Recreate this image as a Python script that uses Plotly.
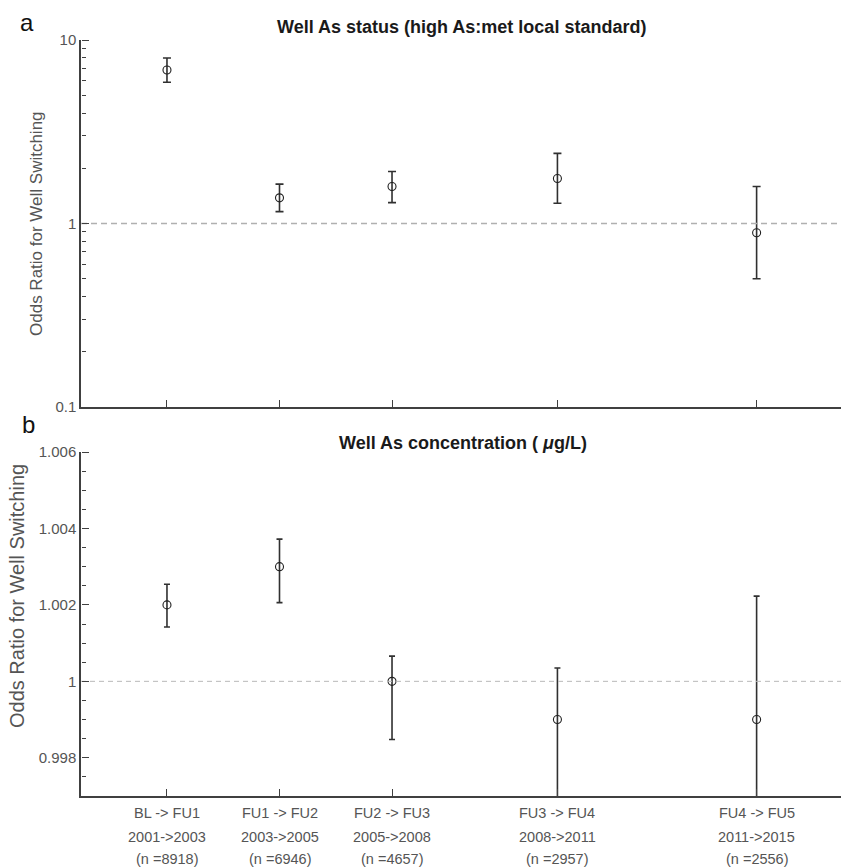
import plotly.graph_objects as go

# ---------------- data ----------------
periods = ["BL -> FU1", "FU1 -> FU2", "FU2 -> FU3", "FU3 -> FU4", "FU4 -> FU5"]
years = ["2001->2003", "2003->2005", "2005->2008", "2008->2011", "2011->2015"]
n_labels = ["(n =8918)", "(n =6946)", "(n =4657)", "(n =2957)", "(n =2556)"]
x_pos = [1, 2, 3, 4.47, 6.24]

# panel a: Well As status (high As : met local standard)
or_status = [6.86, 1.38, 1.59, 1.76, 0.89]
lo_status = [5.88, 1.16, 1.30, 1.29, 0.50]
hi_status = [7.98, 1.64, 1.92, 2.41, 1.59]

# panel b: Well As concentration (ug/L)
or_conc = [1.0020, 1.0030, 1.0000, 0.9990, 0.9990]
lo_conc = [1.00142, 1.00206, 0.99848, 0.99650, 0.99577]
hi_conc = [1.00254, 1.00372, 1.00066, 1.00035, 1.00223]

x_range = [0.236, 6.99]
yb_range = [0.997, 1.006]
yb_ticks = [0.998, 1.0, 1.002, 1.004, 1.006]
yb_ticktext = ["0.998", "1", "1.002", "1.004", "1.006"]
ya_ticks = [0.1, 1, 10]
ya_ticktext = ["0.1", "1", "10"]

# minor tick positions
ya_minor = [round(m * d, 3) for d in (0.1, 1) for m in range(2, 10)]
yb_minor = [round(0.997 + 0.0005 * k, 4) for k in range(0, 19)]
yb_minor = [v for v in yb_minor if all(abs(v - t) > 1e-7 for t in yb_ticks)]

# ---------------- figure ----------------
W, H = 841, 867
ML, MR, MT, MB = 81, 0, 40, 71
PH = H - MT - MB
PW = W - ML - MR

def py(pix):
    return (H - MB - pix) / PH

def px(pix):
    return (pix - ML) / PW

dom_a = [py(407), 1.0]
dom_b = [0.0, py(452)]

ERR_C = "#303030"
MK_C = "#202020"
AX_C = "#404040"
TICK_C = "#555555"
FONT = "Liberation Sans, Arial, sans-serif"

fig = go.Figure()

# OR = 1 reference lines; they sit on the tick-carrying overlay axes
fig.add_trace(go.Scatter(x=x_range, y=[1, 1], mode="lines", xaxis="x", yaxis="y3",
                         line=dict(color="#b0b0b0", width=1.6, dash="6px,4px"),
                         hoverinfo="skip", showlegend=False))
fig.add_trace(go.Scatter(x=x_range, y=[1, 1], mode="lines", xaxis="x", yaxis="y5",
                         line=dict(width=0), opacity=0,
                         hoverinfo="skip", showlegend=False))
fig.add_trace(go.Scatter(x=x_range, y=[1, 1], mode="lines", xaxis="x2", yaxis="y4",
                         line=dict(color="#b8b8b8", width=1, dash="5px,4px"),
                         hoverinfo="skip", showlegend=False))
fig.add_trace(go.Scatter(x=x_range, y=[1, 1], mode="lines", xaxis="x2", yaxis="y6",
                         line=dict(width=0), opacity=0,
                         hoverinfo="skip", showlegend=False))

fig.add_trace(go.Scatter(
    x=x_pos, y=or_status, mode="markers", xaxis="x", yaxis="y",
    marker=dict(symbol="circle-open", size=8, color=MK_C, line=dict(width=1.1, color=MK_C)),
    error_y=dict(type="data", symmetric=False,
                 array=[h - o for h, o in zip(hi_status, or_status)],
                 arrayminus=[o - l for o, l in zip(or_status, lo_status)],
                 color=ERR_C, thickness=1.6, width=4),
    showlegend=False))

fig.add_trace(go.Scatter(
    x=x_pos, y=or_conc, mode="markers", xaxis="x2", yaxis="y2",
    marker=dict(symbol="circle-open", size=8, color=MK_C, line=dict(width=1.1, color=MK_C)),
    error_y=dict(type="data", symmetric=False,
                 array=[h - o for h, o in zip(hi_conc, or_conc)],
                 arrayminus=[o - l for o, l in zip(or_conc, lo_conc)],
                 color=ERR_C, thickness=1.6, width=3),
    showlegend=False))

axis_common = dict(showline=True, linecolor=AX_C, linewidth=1.5, showgrid=False,
                   zeroline=False, mirror=False)
# tick-only overlay axes placed on the left edge, with ticks pointing into the plot
def tick_axis(overlay, dom, vals, length, log=False):
    d = dict(overlaying=overlay, anchor="free", position=0, side="right", domain=dom,
             showline=False, showgrid=False, zeroline=False, showticklabels=False,
             ticks="outside", ticklen=length, tickwidth=1.3, tickcolor=AX_C,
             tickmode="array", tickvals=vals)
    if log:
        d.update(type="log", range=[-1, 1])
    else:
        d.update(range=yb_range)
    return d

fig.update_layout(
    width=W, height=H,
    margin=dict(l=ML, r=MR, t=MT, b=MB),
    paper_bgcolor="white", plot_bgcolor="white",
    font=dict(family=FONT, color=TICK_C, size=14),
    xaxis=dict(domain=[0, 1], anchor="y", range=x_range, tickmode="array", tickvals=x_pos,
               showticklabels=False, ticks="inside", ticklen=7, tickwidth=1.2,
               tickcolor=AX_C, **axis_common),
    yaxis=dict(domain=dom_a, anchor="x", type="log",
               range=[-1, 1], tickmode="array", tickvals=ya_ticks, ticktext=ya_ticktext,
               ticks="", tickfont=dict(size=15, color=TICK_C, family=FONT),
               **axis_common),
    yaxis3=tick_axis("y", dom_a, ya_ticks, 7, log=True),
    yaxis5=tick_axis("y", dom_a, ya_minor, 4, log=True),
    xaxis2=dict(domain=[0, 1], anchor="y2", range=x_range, tickmode="array", tickvals=x_pos,
                showticklabels=False, ticks="inside", ticklen=7, tickwidth=1.2,
                tickcolor=AX_C, **axis_common),
    yaxis2=dict(domain=dom_b, anchor="x2", range=yb_range, tickmode="array",
                tickvals=yb_ticks, ticktext=yb_ticktext, ticks="",
                tickfont=dict(size=15, color=TICK_C, family=FONT),
                **axis_common),
    yaxis4=tick_axis("y2", dom_b, yb_ticks, 7),
    yaxis6=tick_axis("y2", dom_b, yb_minor, 4),
)

ann = []
ann.append(dict(text="a", x=px(27), y=py(22), xref="paper", yref="paper", showarrow=False,
                font=dict(size=24, color="#111111", family=FONT), xanchor="center", yanchor="middle"))
ann.append(dict(text="b", x=px(28), y=py(424), xref="paper", yref="paper", showarrow=False,
                font=dict(size=24, color="#111111", family=FONT), xanchor="center", yanchor="middle"))
ann.append(dict(text="<b>Well As status (high As:met local standard)</b>", x=px(461), y=py(27),
                xref="paper", yref="paper", showarrow=False, xanchor="center", yanchor="middle",
                font=dict(size=18, color="#1a1a1a", family=FONT)))
ann.append(dict(text="<b>Well As concentration ( <i>\u03bc</i>g/L)</b>", x=px(463), y=py(443),
                xref="paper", yref="paper", showarrow=False, xanchor="center", yanchor="middle",
                font=dict(size=18, color="#1a1a1a", family=FONT)))
ann.append(dict(text="Odds Ratio for Well Switching", x=px(36), y=py(224), xref="paper", yref="paper",
                showarrow=False, textangle=-90, xanchor="center", yanchor="middle",
                font=dict(size=17, color=TICK_C, family=FONT)))
ann.append(dict(text="Odds Ratio for Well Switching", x=px(17), y=py(596), xref="paper", yref="paper",
                showarrow=False, textangle=-90, xanchor="center", yanchor="middle",
                font=dict(size=20, color=TICK_C, family=FONT)))
for xv, a, b, c in zip(x_pos, periods, years, n_labels):
    for txt, shift in ((a, -17), (b, -41), (c, -63)):
        ann.append(dict(text=txt, x=xv, y=0, xref="x2", yref="paper", yshift=shift,
                        showarrow=False, xanchor="center", yanchor="middle",
                        font=dict(size=14.5, color=TICK_C, family=FONT)))
fig.update_layout(annotations=ann)

fig.write_html("out.html")
